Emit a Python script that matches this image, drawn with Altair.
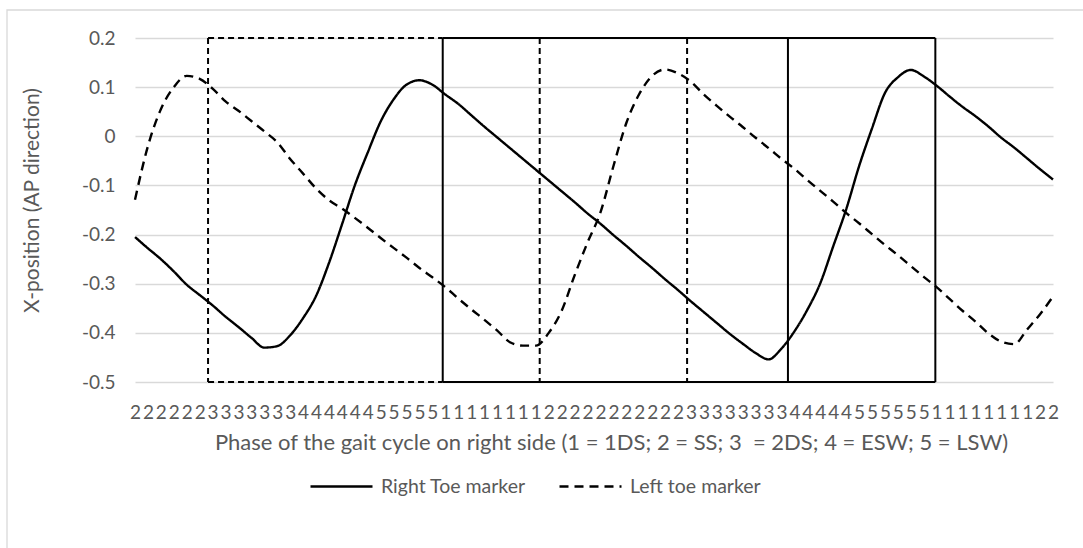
import altair as alt
import pandas as pd

# Gait phase of the right side for every sample (1 = 1DS, 2 = SS, 3 = 2DS, 4 = ESW, 5 = LSW)
phases = list(
    "222222" "3333333" "444444" "55555" "11111111"
    "22222222222" "33333333" "44444" "555555" "11111111" "22"
)

# Antero-posterior toe marker positions, one value per sample
right_toe = [
    -0.205, -0.228, -0.250, -0.275, -0.302, -0.323, -0.344, -0.367, -0.388, -0.410,
    -0.430, -0.427, -0.405, -0.370, -0.325, -0.258, -0.180, -0.100, -0.033, 0.030,
    0.075, 0.105, 0.114, 0.105, 0.085, 0.066, 0.043, 0.020, -0.002, -0.024,
    -0.046, -0.068, -0.090, -0.112, -0.134, -0.157, -0.178, -0.201, -0.223, -0.246,
    -0.268, -0.291, -0.313, -0.336, -0.358, -0.380, -0.402, -0.422, -0.441, -0.454,
    -0.432, -0.397, -0.353, -0.299, -0.224, -0.149, -0.061, 0.016, 0.088, 0.120,
    0.135, 0.122, 0.103, 0.081, 0.060, 0.041, 0.020, -0.003, -0.023, -0.045,
    -0.067, -0.088,
]
left_toe = [
    -0.129, -0.020, 0.055, 0.100, 0.123, 0.117, 0.097, 0.071, 0.052, 0.031,
    0.010, -0.012, -0.046, -0.076, -0.106, -0.130, -0.147, -0.166, -0.186, -0.207,
    -0.227, -0.247, -0.268, -0.287, -0.307, -0.330, -0.352, -0.373, -0.395, -0.419,
    -0.426, -0.426, -0.400, -0.355, -0.283, -0.216, -0.155, -0.061, 0.027, 0.086,
    0.123, 0.136, 0.128, 0.111, 0.085, 0.062, 0.040, 0.019, -0.003, -0.024,
    -0.046, -0.066, -0.089, -0.111, -0.133, -0.156, -0.177, -0.199, -0.221, -0.242,
    -0.264, -0.286, -0.307, -0.331, -0.355, -0.377, -0.401, -0.418, -0.423, -0.393,
    -0.362, -0.326,
]

series = ["Right Toe marker", "Left toe marker"]

# Gait events in sample units: left foot (dashed) and right foot (solid)
left_events = [5.65, 31.3, 42.7]
right_events = [23.8, 50.5, 61.9]
left_box = [5.65, 23.8]
right_box = [23.8, 61.9]

y_ticks = [0.2, 0.1, 0.0, -0.1, -0.2, -0.3, -0.4, -0.5]
y_top, y_bottom = 0.2, -0.5

FONT = "Lato"
GREY = "#595959"
GRID = "#d9d9d9"
n = len(phases)

rows = []
for name, vals in zip(series, [right_toe, left_toe]):
    for i, v in enumerate(vals):
        rows.append({"idx": i, "value": v, "series": name, "phase": phases[i]})
df = pd.DataFrame(rows)

label_expr = "[" + ",".join("'%s'" % p for p in phases) + "][datum.value]"
y_label_expr = (
    "datum.value == 0 ? '0' : (datum.value < 0 ? '-' + format(-datum.value, '.1f') "
    ": format(datum.value, '.1f'))"
)

x_scale = alt.Scale(domain=[0, n - 1], nice=False, zero=False)
y_scale = alt.Scale(domain=[y_bottom, y_top], nice=False, zero=False)

x_axis = alt.Axis(
    values=list(range(n)),
    labelExpr=label_expr,
    labelOverlap=False,
    labelFlush=False,
    labelBound=False,
    grid=False,
    domain=False,
    ticks=False,
    tickSize=0,
    labelPadding=21,
    labelFont=FONT,
    labelFontSize=19,
    labelColor=GREY,
    title="Phase of the gait cycle on right side (1 = 1DS; 2 = SS; 3\u00a0 = 2DS; 4 = ESW; 5 = LSW)",
    titleFont=FONT,
    titleFontSize=22,
    titleFontWeight="normal",
    titleColor=GREY,
    titlePadding=10,
    titleX=476,
    titleAlign="center",
)
y_axis = alt.Axis(
    values=y_ticks,
    labelExpr=y_label_expr,
    grid=True,
    gridColor=GRID,
    gridWidth=1.3,
    domain=False,
    ticks=False,
    tickSize=0,
    labelPadding=20,
    labelFont=FONT,
    labelFontSize=19,
    labelColor=GREY,
    title="X-position (AP direction)",
    titleFont=FONT,
    titleFontSize=21,
    titleFontWeight="normal",
    titleColor=GREY,
    titlePadding=39,
    titleY=162,
    titleAlign="center",
)

lines = alt.Chart(df).mark_line(
    color="black", strokeWidth=2.4, interpolate="monotone"
).encode(
    x=alt.X("idx:Q", scale=x_scale, axis=x_axis),
    y=alt.Y("value:Q", scale=y_scale, axis=y_axis),
    strokeDash=alt.StrokeDash(
        "series:N",
        scale=alt.Scale(domain=series, range=[[1, 0], [9, 6]]),
        legend=alt.Legend(
            title=None,
            orient="none",
            legendX=174,
            legendY=416,
            direction="horizontal",
            symbolType="stroke",
            symbolSize=3844,
            symbolStrokeWidth=2.5,
            symbolStrokeColor="black",
            labelFont=FONT,
            labelFontSize=19.5,
            labelColor=GREY,
            labelOffset=7,
            columnPadding=28,
        ),
    ),
    detail="series:N",
)

# Event markers
vert = pd.DataFrame(
    {"x": left_events + right_events,
     "kind": ["left"] * len(left_events) + ["right"] * len(right_events)}
)
horiz = pd.DataFrame(
    {
        "x0": [left_box[0], left_box[0], right_box[0], right_box[0]],
        "x1": [left_box[1], left_box[1], right_box[1], right_box[1]],
        "y": [y_top, y_bottom, y_top, y_bottom],
        "kind": ["left", "left", "right", "right"],
    }
)


def verticals(kind, dash):
    return alt.Chart(vert[vert.kind == kind]).mark_rule(
        color="black", strokeWidth=2, strokeDash=dash
    ).encode(
        x=alt.X("x:Q", scale=x_scale, axis=x_axis),
        y=alt.datum(y_top),
        y2=alt.datum(y_bottom),
    )


def horizontals(kind, dash):
    return alt.Chart(horiz[horiz.kind == kind]).mark_rule(
        color="black", strokeWidth=2, strokeDash=dash
    ).encode(
        x=alt.X("x0:Q", scale=x_scale, axis=x_axis),
        x2="x1:Q",
        y=alt.Y("y:Q", scale=y_scale, axis=y_axis),
    )


frame = alt.Chart(pd.DataFrame({"a": [0]})).mark_rect(
    fillOpacity=0, stroke=GRID, strokeWidth=1.3
).encode(
    x=alt.value(-128), x2=alt.value(1200), y=alt.value(-28), y2=alt.value(800)
)

chart = alt.layer(
    frame,
    lines,
    verticals("left", [6, 4]),
    horizontals("left", [6, 4]),
    verticals("right", [1, 0]),
    horizontals("right", [1, 0]),
).properties(
    width=918,
    height=344,
    autosize=alt.AutoSizeParams(type="none"),
    padding={"left": 135, "top": 38, "right": 30, "bottom": 166},
    background="white",
).configure_view(stroke=None)

chart.save("out.html", embed_options={"renderer": "svg", "actions": False})
